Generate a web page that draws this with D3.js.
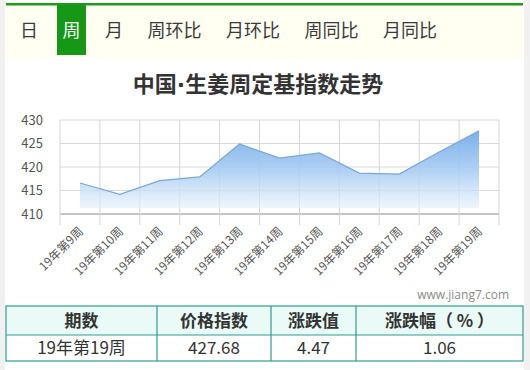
<!DOCTYPE html>
<html>
<head>
<meta charset="utf-8">
<script src="https://cdn.jsdelivr.net/npm/d3@7"></script>
<style>
  body { margin: 0; background: #f1f1f1; }
  svg { display: block; font-family: "Noto Sans CJK SC", "Microsoft YaHei", sans-serif; }
</style>
</head>
<body>
<script>
var canvasWidth = 530;
var canvasHeight = 370;

// data
var tabs = ["日", "周", "月", "周环比", "月环比", "周同比", "月同比"];
var activeTab = "周";
var titleParts = ["中国", "·", "生姜周定基指数走势"];
var weeks = ["19年第9周", "19年第10周", "19年第11周", "19年第12周", "19年第13周", "19年第14周",
             "19年第15周", "19年第16周", "19年第17周", "19年第18周", "19年第19周"];
var values = [416.6, 414.2, 417.1, 417.9, 424.9, 421.9, 423.0, 418.7, 418.5, 423.21, 427.68];
var yTicks = [410, 415, 420, 425, 430];
var tableHeaders = ["期数", "价格指数", "涨跌值", "涨跌幅（ % ）"];
var tableRow = ["19年第19周", "427.68", "4.47", "1.06"];
var watermark = "www.jiang7.com";

var svg = d3.select("body").append("svg")
    .attr("width", canvasWidth)
    .attr("height", canvasHeight);

// white panel
svg.append("rect")
    .attr("x", 5).attr("y", 0)
    .attr("width", 519).attr("height", canvasHeight)
    .attr("fill", "#ffffff");

// tab bar
svg.append("rect")
    .attr("x", 6).attr("y", 5)
    .attr("width", 517).attr("height", 53)
    .attr("fill", "#fffff2");
svg.append("rect")
    .attr("x", 6).attr("y", 3)
    .attr("width", 517).attr("height", 2.5)
    .attr("fill", "#1f9a1f");

var tabX = 14.5;
tabs.forEach(function(t) {
    var w = t.length * 18 + 11;
    if (t === activeTab) {
        svg.append("rect")
            .attr("x", tabX).attr("y", 5)
            .attr("width", w).attr("height", 50)
            .attr("fill", "#169816");
    }
    svg.append("text")
        .attr("x", tabX + w / 2)
        .attr("y", 37)
        .attr("text-anchor", "middle")
        .attr("font-size", "18px")
        .attr("fill", t === activeTab ? "#ffffff" : "#3a3a3a")
        .text(t);
    tabX += w + 13.5;
});

// title (the middle dot is narrow in the original, so it gets a latin font)
var title = svg.append("text")
    .attr("x", 258)
    .attr("y", 92)
    .attr("text-anchor", "middle")
    .attr("font-size", "22px")
    .attr("font-weight", "bold")
    .attr("fill", "#333");
titleParts.forEach(function(p, i) {
    var ts = title.append("tspan").text(p);
    if (i === 1) ts.attr("font-family", "'DejaVu Sans', sans-serif");
});

// scales
var xScale = d3.scaleBand().domain(weeks).range([60, 499]).padding(0);
var yScale = d3.scaleLinear().domain([410, 430]).range([214, 120]);

var defs = svg.append("defs");
var grad = defs.append("linearGradient")
    .attr("id", "areaFill")
    .attr("gradientUnits", "userSpaceOnUse")
    .attr("x1", 0).attr("y1", yScale(430))
    .attr("x2", 0).attr("y2", yScale(410));
grad.append("stop").attr("offset", "0%").attr("stop-color", "#6aa6e6").attr("stop-opacity", 1);
grad.append("stop").attr("offset", "55%").attr("stop-color", "#a9cdf2").attr("stop-opacity", 0.9);
grad.append("stop").attr("offset", "100%").attr("stop-color", "#eef5fd").attr("stop-opacity", 0.6);

// grid
var grid = svg.append("g");
yTicks.forEach(function(v) {
    grid.append("line")
        .attr("x1", 60).attr("x2", 499)
        .attr("y1", yScale(v)).attr("y2", yScale(v))
        .attr("stroke", v === 410 ? "#c4c4c4" : "#d9d9d9")
        .attr("stroke-width", v === 410 ? 2 : 1);
});
var edges = weeks.map(function(w) { return xScale(w); });
edges.push(xScale.range()[1]);
edges.forEach(function(ex) {
    grid.append("line")
        .attr("x1", ex).attr("x2", ex)
        .attr("y1", yScale(430)).attr("y2", yScale(410) + 11)
        .attr("stroke", "#d4d4d4")
        .attr("stroke-width", 1);
});

// area + line
var cx = function(d, i) { return xScale(weeks[i]) + xScale.bandwidth() / 2; };
var area = d3.area()
    .x(cx)
    .y0(yScale(410) - 6)
    .y1(function(d) { return yScale(d); });
var line = d3.line()
    .x(cx)
    .y(function(d) { return yScale(d); });

svg.append("path")
    .datum(values)
    .attr("d", area)
    .attr("fill", "url(#areaFill)");
svg.append("path")
    .datum(values)
    .attr("d", line)
    .attr("fill", "none")
    .attr("stroke", "#7aa7d6")
    .attr("stroke-width", 1.2);

// y labels
yTicks.forEach(function(v) {
    svg.append("text")
        .attr("x", 43)
        .attr("y", yScale(v))
        .attr("dy", "0.35em")
        .attr("text-anchor", "end")
        .attr("font-size", "13px")
        .attr("fill", "#555")
        .text(v);
});

// x labels
weeks.forEach(function(w, i) {
    svg.append("text")
        .attr("transform", "translate(" + (cx(null, i) + 4) + "," + (yScale(410) + 18) + ") rotate(-45)")
        .attr("text-anchor", "end")
        .attr("font-size", "12px")
        .attr("fill", "#555")
        .text(w);
});

// watermark
svg.append("text")
    .attr("x", 509)
    .attr("y", 299)
    .attr("text-anchor", "end")
    .attr("font-size", "12px")
    .attr("font-family", "'Open Sans', sans-serif")
    .attr("fill", "#8a8a8a")
    .text(watermark);

// table
var colEdges = [6, 157, 271, 356, 523];
var rowTop = 306, rowMid = 335, rowBot = 361;
var table = svg.append("g");
table.append("rect")
    .attr("x", 6).attr("y", rowTop)
    .attr("width", 517).attr("height", rowMid - rowTop)
    .attr("fill", "#eafaf6");
table.append("rect")
    .attr("x", 6).attr("y", rowTop)
    .attr("width", 517).attr("height", rowBot - rowTop)
    .attr("fill", "none")
    .attr("stroke", "#2f9c8e")
    .attr("stroke-width", 1.2);
table.append("line")
    .attr("x1", 6).attr("x2", 523)
    .attr("y1", rowMid).attr("y2", rowMid)
    .attr("stroke", "#2f9c8e").attr("stroke-width", 1.2);
colEdges.slice(1, -1).forEach(function(ex) {
    table.append("line")
        .attr("x1", ex).attr("x2", ex)
        .attr("y1", rowTop).attr("y2", rowBot)
        .attr("stroke", "#2f9c8e").attr("stroke-width", 1.2);
});
tableHeaders.forEach(function(h, i) {
    var mx = (colEdges[i] + colEdges[i + 1]) / 2;
    table.append("text")
        .attr("x", mx).attr("y", 327)
        .attr("text-anchor", "middle")
        .attr("font-size", "17px")
        .attr("font-weight", "bold")
        .attr("fill", "#333")
        .text(h);
    table.append("text")
        .attr("x", mx).attr("y", 354)
        .attr("text-anchor", "middle")
        .attr("font-size", "17px")
        .attr("fill", "#333")
        .text(tableRow[i]);
});
</script>
</body>
</html>
